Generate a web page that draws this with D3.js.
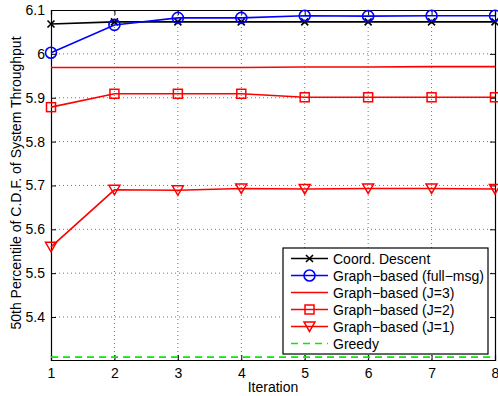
<!DOCTYPE html>
<html>
<head>
<meta charset="utf-8">
<script src="https://cdn.jsdelivr.net/npm/d3@7"></script>
<style>
  body { margin: 0; background: #fff; }
  svg { font-family: "Liberation Sans", Arial, sans-serif; }
  .grid line { stroke: #555; stroke-dasharray: 1 3; stroke-width: 0.8; }
</style>
</head>
<body>
<svg id="chart" width="498" height="396"></svg>
<script>
const iterations = [1, 2, 3, 4, 5, 6, 7, 8];
const coordDescent = [6.068, 6.073, 6.073, 6.073, 6.073, 6.073, 6.073, 6.073];
const fullMsg = [6.0025, 6.066, 6.082, 6.082, 6.087, 6.086, 6.087, 6.087];
const graphJ3 = [5.969, 5.969, 5.969, 5.969, 5.970, 5.970, 5.971, 5.971];
const graphJ2 = [5.8785, 5.909, 5.909, 5.909, 5.901, 5.901, 5.901, 5.901];
const graphJ1 = [5.560, 5.690, 5.689, 5.693, 5.692, 5.693, 5.693, 5.692];
const greedy = [5.3085, 5.3085, 5.3085, 5.3085, 5.3085, 5.3085, 5.3085, 5.3085];
const yTicks = [5.4, 5.5, 5.6, 5.7, 5.8, 5.9, 6.0, 6.1];
const yTickLabels = ['5.4', '5.5', '5.6', '5.7', '5.8', '5.9', '6', '6.1'];

const series = [
  { name: 'Coord. Descent', values: coordDescent, color: '#000', marker: 'x' },
  { name: 'Graph\u2212based (full\u2212msg)', values: fullMsg, color: '#0000ff', marker: 'o' },
  { name: 'Graph\u2212based (J=3)', values: graphJ3, color: '#ff0000', marker: null },
  { name: 'Graph\u2212based (J=2)', values: graphJ2, color: '#ff0000', marker: 's' },
  { name: 'Graph\u2212based (J=1)', values: graphJ1, color: '#ff0000', marker: 'v' },
  { name: 'Greedy', values: greedy, color: '#00ee00', marker: null, dash: '7 5' }
];

const svg = d3.select('#chart');
const margin = { top: 10, right: 3, bottom: 36, left: 51 };
const width = 498, height = 396;

const x = d3.scaleLinear().domain([1, 8]).range([margin.left, width - margin.right]);
const y = d3.scaleLinear().domain([5.302, 6.1]).range([height - margin.bottom, margin.top]);

// grid
const grid = svg.append('g').attr('class', 'grid');
grid.selectAll('.gx').data(iterations.slice(1, -1)).enter().append('line')
  .attr('x1', d => x(d)).attr('x2', d => x(d))
  .attr('y1', y.range()[0]).attr('y2', y.range()[1]);
grid.selectAll('.gy').data(yTicks.slice(0, -1)).enter().append('line')
  .attr('x1', x.range()[0]).attr('x2', x.range()[1])
  .attr('y1', d => y(d)).attr('y2', d => y(d));

// axes
const xAxis = d3.axisBottom(x).tickValues(iterations).tickSize(-5).tickPadding(8).tickFormat(d3.format('d'));
const yAxis = d3.axisLeft(y).tickValues(yTicks).tickSize(-5).tickPadding(6)
  .tickFormat((d, i) => yTickLabels[i]);

svg.append('g').attr('transform', `translate(0,${height - margin.bottom})`).call(xAxis);
svg.append('g').attr('transform', `translate(${margin.left},0)`).call(yAxis);
svg.append('g').attr('transform', `translate(0,${margin.top})`)
  .call(d3.axisTop(x).tickValues(iterations).tickSize(-5).tickFormat(''));
svg.append('g').attr('transform', `translate(${width - margin.right},0)`)
  .call(d3.axisRight(y).tickValues(yTicks).tickSize(-5).tickFormat(''));
svg.selectAll('.domain').attr('stroke', '#000').attr('stroke-width', 1.2);
svg.selectAll('.tick line').attr('stroke', '#000');
svg.selectAll('.tick text').attr('font-size', 14).attr('fill', '#000')
  .attr('font-family', '"Liberation Sans", Arial, sans-serif');

// axis labels
svg.append('text').attr('x', (x.range()[0] + x.range()[1]) / 2).attr('y', 392)
  .attr('text-anchor', 'middle').attr('font-size', 14).text('Iteration');
svg.append('text').attr('transform', `translate(21,${(y.range()[0] + y.range()[1]) / 2 - 2}) rotate(-90)`)
  .attr('text-anchor', 'middle').attr('font-size', 14).text('50th Percentile of C.D.F. of System Throughput');

function drawMarker(g, type, cx, cy, color) {
  if (type === 'x') {
    const s = 3.5;
    g.append('path').attr('d', `M${cx - s},${cy - s}L${cx + s},${cy + s}M${cx - s},${cy + s}L${cx + s},${cy - s}`)
      .attr('stroke', color).attr('stroke-width', 1.6).attr('fill', 'none');
  } else if (type === 'o') {
    g.append('circle').attr('cx', cx).attr('cy', cy).attr('r', 5.5)
      .attr('stroke', color).attr('stroke-width', 1.6).attr('fill', 'none');
  } else if (type === 's') {
    g.append('rect').attr('x', cx - 4.5).attr('y', cy - 4.5).attr('width', 9).attr('height', 9)
      .attr('stroke', color).attr('stroke-width', 1.5).attr('fill', 'none');
  } else if (type === 'v') {
    g.append('path').attr('d', `M${cx - 5.5},${cy - 4.5}L${cx + 5.5},${cy - 4.5}L${cx},${cy + 5}Z`)
      .attr('stroke', color).attr('stroke-width', 1.5).attr('fill', 'none');
  }
}

const plot = svg.append('g');
const line = d3.line().x((d, i) => x(iterations[i])).y(d => y(d));
series.forEach(s => {
  plot.append('path').datum(s.values).attr('d', line)
    .attr('fill', 'none').attr('stroke', s.color).attr('stroke-width', 1.6)
    .attr('stroke-dasharray', s.dash || null);
  if (s.marker) s.values.forEach((v, i) => drawMarker(plot, s.marker, x(iterations[i]), y(v), s.color));
});

// legend
const lg = svg.append('g');
const lx = 283, ly = 248, lw = 205, lh = 106;
lg.append('rect').attr('x', lx).attr('y', ly).attr('width', lw).attr('height', lh)
  .attr('fill', '#fff').attr('stroke', '#000').attr('stroke-width', 1.2);
series.forEach((s, i) => {
  const ry = ly + 10.5 + i * 17;
  lg.append('line').attr('x1', lx + 8).attr('x2', lx + 45).attr('y1', ry).attr('y2', ry)
    .attr('stroke', s.color).attr('stroke-width', 1.6).attr('stroke-dasharray', s.dash || null);
  if (s.marker) drawMarker(lg, s.marker, lx + 26.5, ry, s.color);
  lg.append('text').attr('x', lx + 50).attr('y', ry + 5).attr('font-size', 14).text(s.name);
});
</script>
</body>
</html>
